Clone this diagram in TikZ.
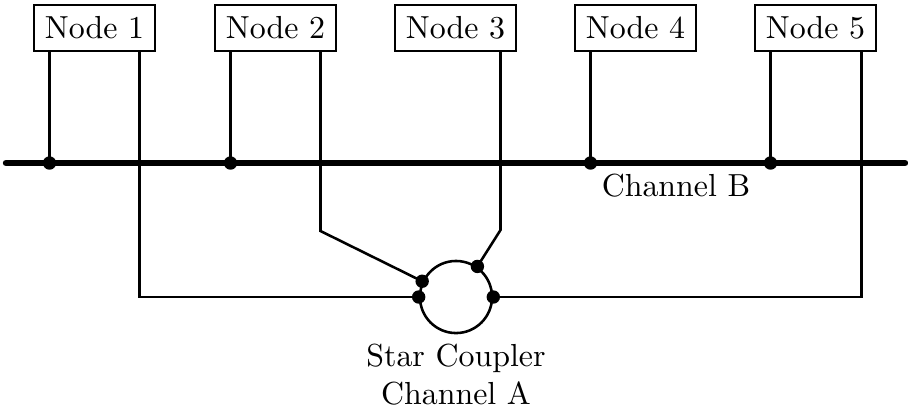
\documentclass[tikz,border=0pt]{standalone}
\begin{document}
\begin{tikzpicture}[x=0.3135pt,y=-0.3135pt,
  nodebox/.style={draw,line width=0.45pt,minimum width=37.9pt,minimum height=14.4pt,inner sep=0pt},
  wire/.style={line width=0.8pt},
  bus/.style={line width=2pt,line cap=round},
  joint/.style={circle,fill=black,inner sep=0pt,minimum size=4.2pt}]
\useasboundingbox (0,0) rectangle (908,405);

% ECUs along the top
\node[nodebox] (n1) at (94.5,28) {Node 1};
\node[nodebox] (n2) at (275.5,28) {Node 2};
\node[nodebox] (n3) at (455.5,28) {Node 3};
\node[nodebox] (n4) at (635.5,28) {Node 4};
\node[nodebox] (n5) at (815.5,28) {Node 5};

% channel B bus
\coordinate (busL) at (6,163);
\coordinate (busR) at (905,163);
\draw[bus] (busL) -- (busR);
\coordinate (b1) at (49.5,163);
\coordinate (b2) at (230.5,163);
\coordinate (b4) at (590.5,163);
\coordinate (b5) at (770.5,163);
\foreach \b/\n in {b1/n1,b2/n2,b4/n4,b5/n5}{
  \draw[wire] (\n.south -| \b) -- (\b);
  \node[joint] at (\b) {};
}
\node[below right,inner sep=3.33pt] at (b4) {Channel B};

% star coupler for channel A
\node[circle,draw,line width=0.8pt,minimum size=22.6pt,inner sep=0pt] (sc) at (456,297) {};
\coordinate (c1) at (139.5,297);
\coordinate (c2) at (320.5,231);
\coordinate (c3) at (500.5,230);
\coordinate (c5) at (861.5,297);
\draw[wire] (n1.south -| c1) -- (c1) -- (sc.180);
\draw[wire] (n2.south -| c2) -- (c2) -- (sc.155);
\draw[wire] (n3.south -| c3) -- (c3) -- (sc.55);
\draw[wire] (n5.south -| c5) -- (c5) -- (sc.0);
\foreach \a in {180,155,55,0}{
  \node[joint] at (sc.\a) {};
}
\node[below,align=center,inner sep=2.8pt] at (sc.south) {Star Coupler\\Channel A};
\end{tikzpicture}
\end{document}
